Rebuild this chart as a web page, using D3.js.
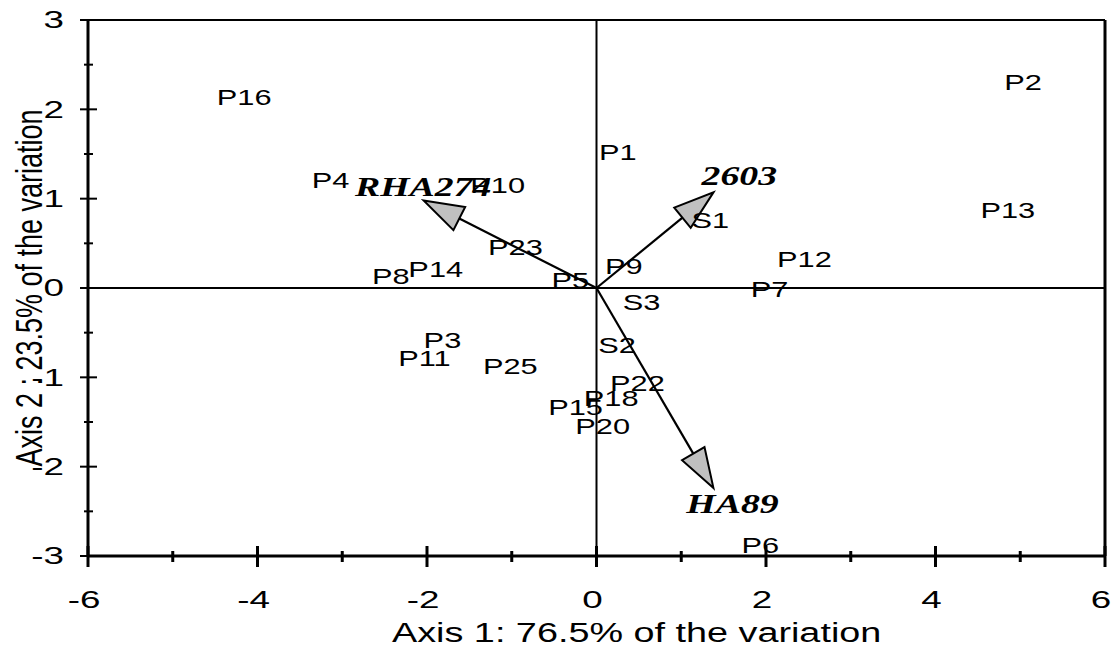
<!DOCTYPE html>
<html>
<head>
<meta charset="utf-8">
<script src="https://cdn.jsdelivr.net/npm/d3@7"></script>
<style>
  body { margin: 0; background: #fff; }
  svg { display: block; }
  text { font-family: Arial, "Liberation Sans", sans-serif; fill: #000; }
  .var-label { font-family: "Times New Roman", "Liberation Serif", serif; font-weight: bold; font-style: italic; }
</style>
</head>
<body>
<div id="vis"></div>
<script>
// etiquetas de los individuos (posicion del borde izquierdo y centro vertical)
const POINT_NAMES = ["P1", "P2", "P3", "P4", "P5", "P6", "P7", "P8", "P9", "P10", "P11", "P12",
  "P13", "P14", "P15", "P16", "P18", "P20", "P22", "P23", "P25", "S1", "S2", "S3"];
const POINT_X = [0.03, 4.81, -2.04, -3.36, -0.53, 1.71, 1.82, -2.65, 0.10, -1.49, -2.34, 2.13,
  4.53, -2.22, -0.57, -4.48, -0.15, -0.25, 0.16, -1.28, -1.34, 1.12, 0.02, 0.31];
const POINT_Y = [1.52, 2.30, -0.58, 1.21, 0.09, -2.88, -0.01, 0.13, 0.24, 1.15, -0.78, 0.32,
  0.87, 0.21, -1.33, 2.14, -1.23, -1.55, -1.06, 0.46, -0.87, 0.76, -0.64, -0.16];

// vectores de las variables
const VAR_NAMES = ["RHA274", "2603", "HA89"];
const VAR_X = [-2.04, 1.38, 1.38];
const VAR_Y = [0.98, 1.07, -2.24];
const VAR_LABEL_X = [-2.85, 1.24, 1.06];
const VAR_LABEL_Y = [1.13, 1.25, -2.42];

const X_TICKS = [-6, -4, -2, 0, 2, 4, 6];
const X_MINOR = [-5, -3, -1, 1, 3, 5];
const Y_TICKS = [-3, -2, -1, 0, 1, 2, 3];
const Y_MINOR = [-2.5, -1.5, -0.5, 0.5, 1.5, 2.5];

const X_TITLE = "Axis 1: 76.5% of the variation";
const Y_TITLE = "Axis 2 : 23.5% of the variation";

const WIDTH = 1117;
const HEIGHT = 651;
const MARGIN = { top: 20, bottom: 95, right: 12, left: 88 };
const STRETCH = 1.4; // el grafico original esta estirado a lo ancho
const TICK_STRETCH = 1.6;

const SVG = d3.select("#vis").append("svg").attr("width", WIDTH).attr("height", HEIGHT);

const xScale = d3.scaleLinear().domain([-6, 6]).range([MARGIN.left, WIDTH - MARGIN.right]);
const yScale = d3.scaleLinear().domain([-3, 3]).range([HEIGHT - MARGIN.bottom, MARGIN.top]);

const [x0, x1] = xScale.range();
const [y0, y1] = yScale.range(); // y0 abajo, y1 arriba

// marco superior y derecho
SVG.append("line").attr("x1", x0).attr("x2", x1).attr("y1", y1).attr("y2", y1)
  .attr("stroke", "#000").attr("stroke-width", 2);
SVG.append("line").attr("x1", x1).attr("x2", x1).attr("y1", y1).attr("y2", y0)
  .attr("stroke", "#000").attr("stroke-width", 3);

// ejes que cruzan el origen
SVG.append("line").attr("x1", x0).attr("x2", x1).attr("y1", yScale(0)).attr("y2", yScale(0))
  .attr("stroke", "#000").attr("stroke-width", 2);
SVG.append("line").attr("x1", xScale(0)).attr("x2", xScale(0)).attr("y1", y1).attr("y2", y0)
  .attr("stroke", "#000").attr("stroke-width", 2);

// eje izquierdo
SVG.append("line").attr("x1", x0).attr("x2", x0).attr("y1", y1).attr("y2", y0)
  .attr("stroke", "#000").attr("stroke-width", 3);
SVG.append("g").selectAll("line").data(Y_TICKS).join("line")
  .attr("x1", x0 - 8).attr("x2", x0 + 9)
  .attr("y1", d => yScale(d)).attr("y2", d => yScale(d))
  .attr("stroke", "#000").attr("stroke-width", 2);
SVG.append("g").selectAll("line").data(Y_MINOR).join("line")
  .attr("x1", x0 - 4).attr("x2", x0 + 5)
  .attr("y1", d => yScale(d)).attr("y2", d => yScale(d))
  .attr("stroke", "#000").attr("stroke-width", 2);

// eje inferior
SVG.append("line").attr("x1", x0).attr("x2", x1).attr("y1", y0).attr("y2", y0)
  .attr("stroke", "#000").attr("stroke-width", 3);
SVG.append("g").selectAll("line").data(X_TICKS).join("line")
  .attr("x1", d => xScale(d)).attr("x2", d => xScale(d))
  .attr("y1", y0 - 10).attr("y2", y0 + 11)
  .attr("stroke", "#000").attr("stroke-width", 3);
SVG.append("g").selectAll("line").data(X_MINOR).join("line")
  .attr("x1", d => xScale(d)).attr("x2", d => xScale(d))
  .attr("y1", y0 - 5).attr("y2", y0 + 6)
  .attr("stroke", "#000").attr("stroke-width", 3);

// texto estirado horizontalmente
function stretchedText(parent, x, y, str, size, anchor, dy, cls, k = STRETCH) {
  const g = parent.append("g").attr("transform", `translate(${x},${y})`);
  const t = g.append("text")
    .attr("transform", `scale(${k},1)`)
    .attr("text-anchor", anchor)
    .attr("dy", dy)
    .style("font-size", size + "px")
    .text(str);
  if (cls) t.attr("class", cls);
  return t;
}

const tickLabels = SVG.append("g");
Y_TICKS.forEach(d => stretchedText(tickLabels, x0 - 24, yScale(d), String(d), 23, "end", "0.36em", null, TICK_STRETCH));
X_TICKS.forEach(d => stretchedText(tickLabels, xScale(d) - 4, y0 + 52, String(d), 23, "middle", 0, null, TICK_STRETCH));

// titulos de ejes
stretchedText(SVG, 392, 642, X_TITLE, 27, "start", 0);
SVG.append("text")
  .attr("transform", `translate(42, ${yScale(0)}) scale(${STRETCH},1) rotate(-90)`)
  .attr("text-anchor", "middle")
  .style("font-size", "27px")
  .text(Y_TITLE);

// vectores
const vars = VAR_NAMES.map((name, i) => ({
  name, x: VAR_X[i], y: VAR_Y[i], lx: VAR_LABEL_X[i], ly: VAR_LABEL_Y[i]
}));
const HEAD_LEN = 40;
const HEAD_HALF = 13;
const arrows = SVG.append("g");
vars.forEach(d => {
  const ox = xScale(0), oy = yScale(0);
  const tx = xScale(d.x), ty = yScale(d.y);
  const len = Math.hypot(tx - ox, ty - oy);
  const ux = (tx - ox) / len, uy = (ty - oy) / len;
  const bx = tx - ux * HEAD_LEN, by = ty - uy * HEAD_LEN;
  arrows.append("line").attr("x1", ox).attr("y1", oy).attr("x2", bx).attr("y2", by)
    .attr("stroke", "#000").attr("stroke-width", 2.2);
  const pts = [[tx, ty], [bx - uy * HEAD_HALF, by + ux * HEAD_HALF], [bx + uy * HEAD_HALF, by - ux * HEAD_HALF]];
  arrows.append("polygon").attr("points", pts.map(p => p.join(",")).join(" "))
    .attr("fill", "#c0c0c0").attr("stroke", "#000").attr("stroke-width", 2).attr("stroke-linejoin", "miter");
});

// etiquetas de los individuos
const labels = SVG.append("g");
POINT_NAMES.forEach((name, i) => {
  stretchedText(labels, xScale(POINT_X[i]), yScale(POINT_Y[i]), name, 22, "start", "0.36em");
});

// etiquetas de las variables
vars.forEach(d => {
  stretchedText(labels, xScale(d.lx), yScale(d.ly), d.name, 27, "start", "0.33em", "var-label");
});
</script>
</body>
</html>
